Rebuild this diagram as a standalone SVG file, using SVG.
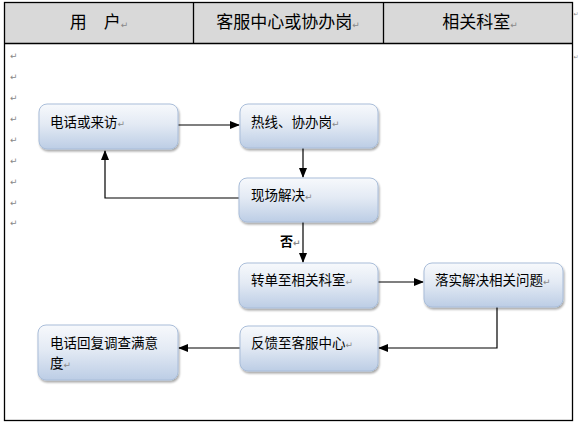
<svg xmlns="http://www.w3.org/2000/svg" width="578" height="426" viewBox="0 0 578 426">
<defs>
<linearGradient id="g" x1="0" y1="0" x2="0" y2="1">
<stop offset="0" stop-color="#f7f9fc"/>
<stop offset="0.45" stop-color="#e3eaf4"/>
<stop offset="1" stop-color="#bccde5"/>
</linearGradient>
<filter id="sh" x="-10%" y="-10%" width="125%" height="135%">
<feGaussianBlur in="SourceAlpha" stdDeviation="1.2"/>
<feOffset dx="1" dy="2" result="b"/>
<feComponentTransfer><feFuncA type="linear" slope="0.35"/></feComponentTransfer>
<feMerge><feMergeNode/><feMergeNode in="SourceGraphic"/></feMerge>
</filter>
<marker id="ah" markerWidth="10" markerHeight="8" refX="9" refY="4" orient="auto" markerUnits="userSpaceOnUse">
<path d="M0,0 L10,4 L0,8 Z" fill="#000"/>
</marker>
</defs>
<style>
.box{fill:url(#g);stroke:#a9bdd9;stroke-width:1;filter:url(#sh)}
.t{font-family:"Noto Sans CJK SC","Noto Sans",sans-serif;font-size:13.5px;fill:#000}
.h{font-family:"Noto Sans CJK SC","Noto Sans",sans-serif;font-size:17px;fill:#000;text-anchor:middle}
.pm{font-family:"DejaVu Sans",sans-serif;font-size:9px;fill:#888}
.pr{font-family:"DejaVu Sans",sans-serif;font-size:6px;fill:#888}
.c{fill:none;stroke:#000;stroke-width:1.2;marker-end:url(#ah)}
.grid{stroke:#000;stroke-width:1.3;fill:none}
</style>
<rect width="578" height="426" fill="#fff"/>
<g id="table">
<rect x="4.5" y="2.5" width="568" height="41" fill="#d9d9d9"/>
<rect class="grid" x="4.5" y="2.5" width="568" height="418"/>
<line class="grid" x1="4.5" y1="43.5" x2="572.5" y2="43.5"/>
<line class="grid" x1="193.5" y1="2.5" x2="193.5" y2="43.5"/>
<line class="grid" x1="383.5" y1="2.5" x2="383.5" y2="43.5"/>
<text class="h" x="99" y="28">用　户<tspan class="pm">↵</tspan></text>
<text class="h" x="288" y="28">客服中心或协办岗<tspan class="pm">↵</tspan></text>
<text class="h" x="480" y="28">相关科室<tspan class="pm">↵</tspan></text>
<text class="pr" x="573.5" y="16">↵</text>
<text class="pr" x="573.5" y="59">↵</text>
<text class="pm" x="10" y="59">↵</text>
<text class="pm" x="10" y="80">↵</text>
<text class="pm" x="10" y="101">↵</text>
<text class="pm" x="10" y="122">↵</text>
<text class="pm" x="10" y="143">↵</text>
<text class="pm" x="10" y="164">↵</text>
<text class="pm" x="10" y="185">↵</text>
<text class="pm" x="10" y="206">↵</text>
<text class="pm" x="10" y="226">↵</text>
</g>
<g id="connectors">
<path class="c" d="M178,125 L239,125"/>
<path class="c" d="M303,148 L303,177"/>
<path class="c" d="M239,198 L105,198 L105,151"/>
<path class="c" d="M303,222 L303,262"/>
<path class="c" d="M378,282 L423,282"/>
<path class="c" d="M497,307 L497,348 L379,348"/>
<path class="c" d="M240,348 L179,348"/>
<text x="280" y="246" style="font-family:'Noto Sans CJK SC',sans-serif;font-size:13px;font-weight:bold">否<tspan class="pm">↵</tspan></text>
</g>
<g id="n1"><rect class="box" x="39" y="104" width="139" height="45" rx="8"/><text class="t" x="50" y="127">电话或来访<tspan class="pm">↵</tspan></text></g>
<g id="n2"><rect class="box" x="240" y="104" width="138" height="44" rx="8"/><text class="t" x="251" y="127">热线、协办岗<tspan class="pm">↵</tspan></text></g>
<g id="n3"><rect class="box" x="239" y="178" width="139" height="44" rx="8"/><text class="t" x="251" y="200">现场解决<tspan class="pm">↵</tspan></text></g>
<g id="n4"><rect class="box" x="239" y="263" width="139" height="45" rx="8"/><text class="t" x="251" y="285">转单至相关科室<tspan class="pm">↵</tspan></text></g>
<g id="n5"><rect class="box" x="424" y="263" width="139" height="44" rx="8"/><text class="t" x="435" y="285">落实解决相关问题<tspan class="pm">↵</tspan></text></g>
<g id="n6"><rect class="box" x="240" y="326" width="138" height="45" rx="8"/><text class="t" x="251" y="348">反馈至客服中心<tspan class="pm">↵</tspan></text></g>
<g id="n7"><rect class="box" x="38" y="325" width="140" height="55" rx="8"/><text class="t" x="50" y="348">电话回复调查满意</text><text class="t" x="50" y="368">度<tspan class="pm">↵</tspan></text></g>
</svg>
